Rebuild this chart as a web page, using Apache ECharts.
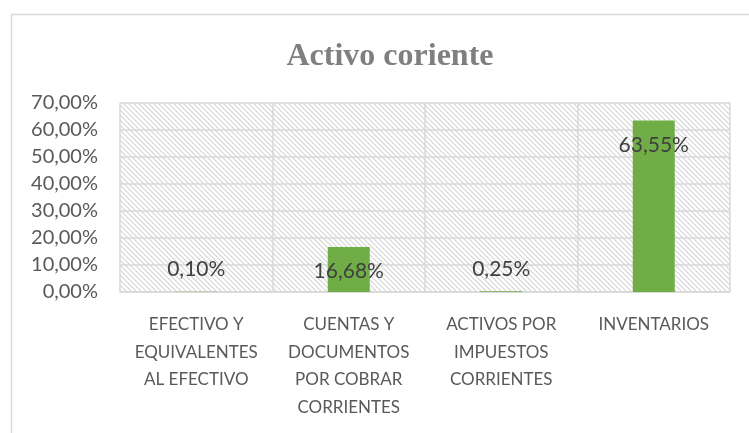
<!DOCTYPE html>
<html>
<head>
<meta charset="utf-8">
<script src="https://cdn.jsdelivr.net/npm/echarts@6/dist/echarts.min.js"></script>
<style>
  html, body { margin: 0; padding: 0; background: #fff; }
  #main { width: 749px; height: 433px; }
</style>
</head>
<body>
<div id="main"></div>
<script>
var categories = [
    'EFECTIVO Y\nEQUIVALENTES\nAL EFECTIVO',
    'CUENTAS Y\nDOCUMENTOS\nPOR COBRAR\nCORRIENTES',
    'ACTIVOS POR\nIMPUESTOS\nCORRIENTES',
    'INVENTARIOS'
];
var values = [0.10, 16.68, 0.25, 63.55];

// hatch fill for the plot area
function makeHatch() {
    var c = document.createElement('canvas');
    c.width = 5;
    c.height = 5;
    var ctx = c.getContext('2d');
    ctx.fillStyle = '#ffffff';
    ctx.fillRect(0, 0, 5, 5);
    ctx.strokeStyle = '#d4d4d4';
    ctx.lineWidth = 1.1;
    ctx.beginPath();
    ctx.moveTo(-1, -1); ctx.lineTo(6, 6);
    ctx.moveTo(-4, 1); ctx.lineTo(3, 8);
    ctx.moveTo(1, -4); ctx.lineTo(8, 3);
    ctx.stroke();
    return c;
}

function fmt(v) {
    return v.toFixed(2).replace('.', ',') + '%';
}

var chart = echarts.init(document.getElementById('main'));

var seriesData = values.map(function (v) {
    var item = {value: v};
    if (v < 10) {
        item.label = {position: 'top', distance: 12};
    }
    return item;
});

var option = {
    animation: false,
    graphic: [{
        type: 'rect',
        left: 9, top: 12,
        shape: {width: 780, height: 460},
        style: {fill: 'none', stroke: '#d9d9d9', lineWidth: 1.5},
        silent: true
    }],
    title: {
        text: 'Activo coriente',
        left: 385,
        textAlign: 'center',
        top: 36,
        textStyle: {
            fontFamily: 'Liberation Serif',
            fontWeight: 'bold',
            fontSize: 32,
            color: '#7f7f7f'
        }
    },
    grid: {
        left: 120, right: 19, top: 103, bottom: 141,
        show: true,
        borderWidth: 0,
        backgroundColor: {image: makeHatch(), repeat: 'repeat'}
    },
    xAxis: {
        type: 'category',
        data: categories,
        axisLine: {show: true, lineStyle: {color: '#d9d9d9', width: 1.5}},
        axisTick: {show: false},
        splitLine: {show: true, interval: 0, lineStyle: {color: '#d9d9d9', width: 1.5}},
        axisLabel: {
            interval: 0,
            margin: 19,
            fontFamily: 'Lato',
            fontSize: 17,
            lineHeight: 27.6,
            color: '#595959'
        }
    },
    yAxis: {
        type: 'value',
        min: 0, max: 70, interval: 10,
        axisLine: {show: false},
        axisTick: {show: false},
        splitLine: {lineStyle: {color: '#d9d9d9', width: 1.5}},
        axisLabel: {
            margin: 22,
            fontFamily: 'Lato',
            fontSize: 20,
            color: '#595959',
            formatter: function (v) { return fmt(v); }
        }
    },
    series: [{
        type: 'bar',
        data: seriesData,
        barWidth: 42,
        itemStyle: {color: '#70ad47'},
        label: {
            show: true,
            position: 'insideTop',
            distance: 14,
            fontFamily: 'Lato',
            fontSize: 21,
            color: '#404040',
            formatter: function (p) { return fmt(p.value); }
        }
    }]
};

chart.setOption(option);
</script>
</body>
</html>
